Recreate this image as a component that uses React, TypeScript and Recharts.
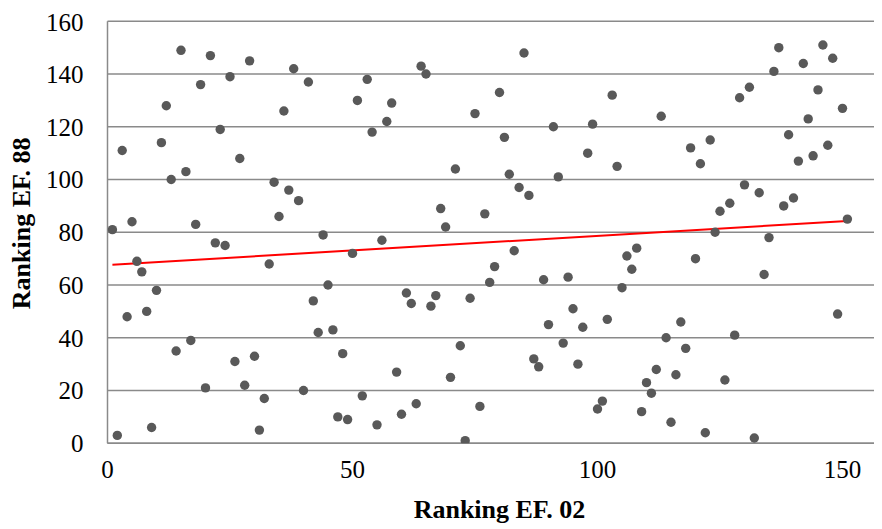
import React from 'react';
import { ScatterChart, Scatter, XAxis, YAxis, CartesianGrid, ReferenceLine } from 'recharts';

const rankEF02 = [
  1, 2, 3, 4, 5, 6, 7, 8, 9, 10, 11, 12, 13, 14, 15, 16, 17, 18, 19, 20,
  21, 22, 23, 24, 25, 26, 27, 28, 29, 30, 31, 32, 33, 34, 35, 36, 37, 38, 39, 40,
  41, 42, 43, 44, 45, 46, 47, 48, 49, 50, 51, 52, 53, 54, 55, 56, 57, 58, 59, 60,
  61, 62, 63, 64, 65, 66, 67, 68, 69, 70, 71, 72, 73, 74, 75, 76, 77, 78, 79, 80,
  81, 82, 83, 84, 85, 86, 87, 88, 89, 90, 91, 92, 93, 94, 95, 96, 97, 98, 99, 100,
  101, 102, 103, 104, 105, 106, 107, 108, 109, 110, 111, 112, 113, 114, 115, 116, 117, 118, 119, 120,
  121, 122, 123, 124, 125, 126, 127, 128, 129, 130, 131, 132, 133, 134, 135, 136, 137, 138, 139, 140,
  141, 142, 143, 144, 145, 146, 147, 148, 149, 150, 151,
];

const rankEF88 = [
  81, 3, 111, 48, 84, 69, 65, 50, 6, 58, 114, 128, 100, 35, 149, 103, 39, 83, 136, 21,
  147, 76, 119, 75, 139, 31, 108, 22, 145, 33, 5, 17, 68, 99, 86, 126, 96, 142, 92, 20,
  137, 54, 42, 79, 60, 43, 10, 34, 9, 72, 130, 18, 138, 118, 7, 77, 122, 129, 27, 11,
  57, 53, 15, 143, 140, 52, 56, 89, 82, 25, 104, 37, 1, 55, 125, 14, 87, 61, 67, 133,
  116, 102, 73, 97, 148, 94, 32, 29, 62, 45, 120, 101, 38, 63, 51, 30, 44, 110, 121, 13,
  16, 47, 132, 105, 59, 71, 66, 74, 12, 23, 19, 28, 124, 40, 8, 26, 46, 36, 112, 70,
  106, 4, 115, 80, 88, 24, 91, 41, 131, 98, 135, 2, 95, 64, 78, 141, 150, 90, 117, 93,
  107, 144, 123, 109, 134, 151, 113, 146, 49, 127, 85,
];

const xTicks = [0, 50, 100, 150];
const yTicks = [0, 20, 40, 60, 80, 100, 120, 140, 160];

const xTitle = 'Ranking EF. 02';
const yTitle = 'Ranking EF. 88';

const data = rankEF02.map((x, i) => ({ x, y: rankEF88[i] }));

// least-squares linear trendline (as the spreadsheet computes it)
const n = data.length;
const mx = data.reduce((s, d) => s + d.x, 0) / n;
const my = data.reduce((s, d) => s + d.y, 0) / n;
const sxy = data.reduce((s, d) => s + (d.x - mx) * (d.y - my), 0);
const sxx = data.reduce((s, d) => s + (d.x - mx) * (d.x - mx), 0);
const slope = sxy / sxx;
const intercept = my - slope * mx;
const xMin = Math.min(...rankEF02);
const xMax = Math.max(...rankEF02);

const GRID = '#8a8a8a';
const FONT = '"Liberation Serif", "Times New Roman", serif';

const Dot = (props: any) => (
  <circle cx={props.cx} cy={props.cy} r={4.7} fill="#595959" />
);

const XTitle = (props: any) => {
  const vb = props.viewBox;
  return (
    <text
      x={vb.x + vb.width / 2}
      y={vb.y + 74.5}
      textAnchor="middle"
      fontFamily={FONT}
      fontWeight="bold"
      fontSize={26}
      fill="#000"
    >
      {xTitle}
    </text>
  );
};

const YTitle = (props: any) => {
  const vb = props.viewBox;
  const cx = 22;
  const cy = vb.y + 202;
  return (
    <text
      x={cx}
      y={cy}
      transform={`rotate(-90, ${cx}, ${cy})`}
      textAnchor="middle"
      fontFamily={FONT}
      fontWeight="bold"
      fontSize={26}
      fill="#000"
    >
      {yTitle}
    </text>
  );
};

export default function App() {
  return (
    <div style={{ width: 874, height: 521, overflow: 'hidden' }}>
      <style>{'html,body{overflow:hidden;}'}</style>
      <ScatterChart
        width={890}
        height={521}
        margin={{ top: 13.3, right: 6.5, bottom: 0, left: 0 }}
      >
        <CartesianGrid vertical={false} stroke={GRID} strokeWidth={1.5} />
        <XAxis
          type="number"
          dataKey="x"
          domain={[0, 160]}
          ticks={xTicks}
          allowDataOverflow
          tickLine={false}
          axisLine={{ stroke: GRID, strokeWidth: 1.5 }}
          tick={{ fill: '#000', fontSize: 25, fontFamily: FONT }}
          tickMargin={11}
          height={85.7}
          label={<XTitle />}
        />
        <YAxis
          type="number"
          dataKey="y"
          domain={[0, 160]}
          ticks={yTicks}
          allowDataOverflow
          tickLine={false}
          axisLine={{ stroke: GRID, strokeWidth: 1.5 }}
          tick={{ fill: '#000', fontSize: 25, fontFamily: FONT }}
          tickMargin={18}
          width={99.5}
          label={<YTitle />}
        />
        <Scatter data={data} shape={<Dot />} isAnimationActive={false} />
        <ReferenceLine
          segment={[
            { x: xMin, y: intercept + slope * xMin },
            { x: xMax, y: intercept + slope * xMax },
          ]}
          stroke="#ff0000"
          strokeWidth={2}
        />
      </ScatterChart>
    </div>
  );
}
